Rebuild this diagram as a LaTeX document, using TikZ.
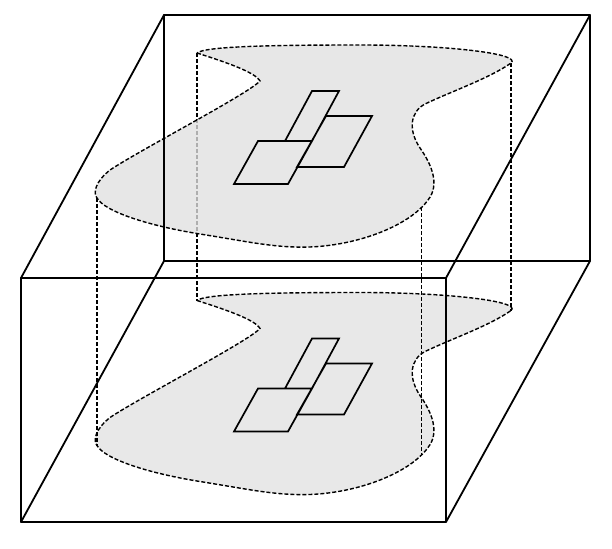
\documentclass[tikz,border=0pt]{standalone}
\begin{document}
\begin{tikzpicture}[x=1pt,y=-1pt,
  boxedge/.style={line width=1.8pt,line cap=round,line join=round},
  blobline/.style={draw=black,line width=1.4pt,dash pattern=on 4pt off 2pt},
  vline/.style={draw=black,line width=1.4pt,dash pattern=on 4pt off 2pt},
  tile/.style={draw=black,line width=1.7pt,line join=miter},
  blobshape/.style={insert path={(197,53) .. controls (225,62) and (255,72) .. (260,81)
     .. controls (248,94) and (140,150) .. (110,170)
     .. controls (95,182) and (93,193) .. (97,198)
     .. controls (105,212) and (150,226) .. (200,234)
     .. controls (250,242) and (275,248) .. (310,247)
     .. controls (360,245) and (410,225) .. (428,200)
     .. controls (440,185) and (432,165) .. (420,148)
     .. controls (408,130) and (410,112) .. (425,104)
     .. controls (450,92) and (490,78) .. (511,63)
     .. controls (522,54) and (450,45) .. (360,45)
     .. controls (280,45) and (205,46) .. (197,53) -- cycle}},
  tiles/.style={insert path={(312,91) -- (339,91) -- (312,141) -- (285,141) -- cycle
     (326,116) -- (372,116) -- (344,167) -- (297,167) -- cycle
     (258,141) -- (312,141) -- (288,184) -- (234,184) -- cycle}}
]
\useasboundingbox (0,0) rectangle (612,548);

% lower layer
\begin{scope}[shift={(0,247.5)}]
  \path[fill=black!9, blobline] [blobshape];
  \path[tile] [tiles];
\end{scope}

% vertical dashed connectors
\coordinate (ua) at (197,53);     \coordinate (la) at (197,300.5);
\coordinate (ub) at (97,198);     \coordinate (lb) at (97,445.5);
\coordinate (uc) at (421.7,207.3);\coordinate (lc) at (421.7,454.8);
\coordinate (ud) at (511,63);     \coordinate (ld) at (511,310.5);
\draw[vline] (ua) -- (la);
\draw[vline] (ub) -- (lb);
\draw[vline] (uc) -- (lc);
\draw[vline] (ud) -- (ld);

% upper layer
\path[fill=black!12, fill opacity=0.78, blobline] [blobshape];
\path[tile] [tiles];

% box
\coordinate (B1) at (164,15);  \coordinate (B2) at (590,15);
\coordinate (B3) at (590,261); \coordinate (B4) at (164,261);
\coordinate (F1) at (21,278);  \coordinate (F2) at (446,278);
\coordinate (F3) at (446,522); \coordinate (F4) at (21,522);
\draw[boxedge] (B1) -- (B2) -- (B3) -- (B4) -- cycle;
\draw[boxedge] (F1) -- (F2) -- (F3) -- (F4) -- cycle;
\draw[boxedge] (F1) -- (B1);
\draw[boxedge] (F2) -- (B2);
\draw[boxedge] (F3) -- (B3);
\draw[boxedge] (F4) -- (B4);
\end{tikzpicture}
\end{document}
